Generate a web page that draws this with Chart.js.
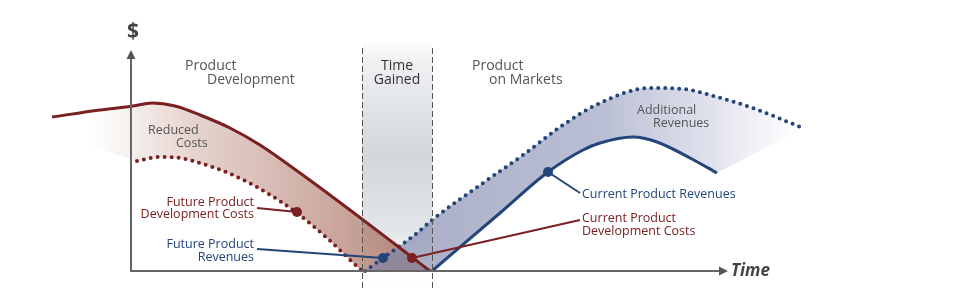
<!DOCTYPE html>
<html>
<head>
<meta charset="utf-8">
<script src="https://cdn.jsdelivr.net/npm/chart.js@4"></script>
<style>
  body { margin: 0; background: #fff; }
  canvas { display: block; }
</style>
</head>
<body>
<canvas id="myChart" width="979" height="304"></canvas>
<script>
// time units on x, money units on y (axis origin = 0,0)
const currentCostX = [-7.9, -3.1, 0.2, 2.1, 4.4, 6.9, 9.9, 12.9, 16.9, 21.9, 26.9, 29.9];
const currentCostY = [15.4, 16.1, 16.5, 16.8, 16.5, 15.6, 14.3, 12.6, 9.8, 6.1, 2.3, 0];

const futureCostX = [0.6, 2.9, 4.9, 6.9, 10.2, 13.6, 16.6, 19.6, 21.6, 23.1];
const futureCostY = [11.0, 11.4, 11.3, 10.8, 9.6, 7.8, 5.8, 3.3, 1.4, 0];

const futureRevX = [23.4, 25.2, 28.6, 30.1, 35.2, 39.2, 43.2, 46.9, 51.9, 55.2, 58.6, 61.9, 67.2];
const futureRevY = [0, 1.3, 3.8, 5.1, 8.8, 11.6, 14.6, 16.8, 18.3, 18.2, 17.4, 16.4, 14.3];

const currentRevX = [30.1, 36.9, 41.7, 45.2, 46.9, 50.2, 52.6, 55.9, 58.6];
const currentRevY = [0, 5.8, 9.9, 12.1, 12.8, 13.4, 12.9, 11.3, 9.8];

// time gained window
const gainedStart = 23.1;
const gainedEnd = 30.1;

// callout markers on the curves
const markFutureCost = { x: 16.6, y: 5.9 };
const markFutureRev = { x: 25.2, y: 1.3 };
const markCurrentCost = { x: 28.1, y: 1.3 };
const markCurrentRev = { x: 41.7, y: 9.9 };

const RED = '#7a2020';
const NAVY = '#22457a';

const pts = (xs, ys) => xs.map((v, i) => ({ x: v, y: ys[i] }));

const labels = [
  { t: 'Product', x: 5.4, y: 20.5, a: 'left', f: '14px "Open Sans"', c: '#555' },
  { t: 'Development', x: 7.6, y: 19.1, a: 'left', f: '14px "Open Sans"', c: '#555' },
  { t: 'Time', x: 26.6, y: 20.5, a: 'center', f: '14px "Open Sans"', c: '#333' },
  { t: 'Gained', x: 26.6, y: 19.1, a: 'center', f: '14px "Open Sans"', c: '#333' },
  { t: 'Product', x: 34.1, y: 20.5, a: 'left', f: '14px "Open Sans"', c: '#555' },
  { t: 'on Markets', x: 35.8, y: 19.1, a: 'left', f: '14px "Open Sans"', c: '#555' },
  { t: 'Reduced', x: 1.7, y: 14.1, a: 'left', f: '12.5px "Open Sans"', c: '#555' },
  { t: 'Costs', x: 4.5, y: 12.8, a: 'left', f: '12.5px "Open Sans"', c: '#555' },
  { t: 'Additional', x: 50.6, y: 16.1, a: 'left', f: '12.5px "Open Sans"', c: '#555' },
  { t: 'Revenues', x: 52.2, y: 14.8, a: 'left', f: '12.5px "Open Sans"', c: '#555' },
  { t: 'Future Product', x: 12.3, y: 6.9, a: 'right', f: '500 12.5px "Open Sans"', c: RED },
  { t: 'Development Costs', x: 12.3, y: 5.7, a: 'right', f: '500 12.5px "Open Sans"', c: RED },
  { t: 'Future Product', x: 12.3, y: 2.7, a: 'right', f: '500 12.5px "Open Sans"', c: NAVY },
  { t: 'Revenues', x: 12.3, y: 1.4, a: 'right', f: '500 12.5px "Open Sans"', c: NAVY },
  { t: 'Current Product Revenues', x: 45.1, y: 7.7, a: 'left', f: '500 12.5px "Open Sans"', c: NAVY },
  { t: 'Current Product', x: 45.1, y: 5.3, a: 'left', f: '500 12.5px "Open Sans"', c: RED },
  { t: 'Development Costs', x: 45.1, y: 4.0, a: 'left', f: '500 12.5px "Open Sans"', c: RED },
  { t: 'Time', x: 60.0, y: 0, a: 'left', f: 'italic bold 17px "Open Sans"', c: '#444' },
  { t: '$', x: 0.2, y: 23.9, a: 'center', f: 'bold 21px "Open Sans"', c: '#444' }
];

function trace(ctx, points, reverse, move) {
  const p = reverse ? points.slice().reverse() : points;
  if (move) ctx.moveTo(p[0].x, p[0].y); else ctx.lineTo(p[0].x, p[0].y);
  for (let i = 1; i < p.length; i++) {
    const a = p[i - 1], b = p[i];
    if (!reverse) ctx.bezierCurveTo(a.cp2x, a.cp2y, b.cp1x, b.cp1y, b.x, b.y);
    else ctx.bezierCurveTo(a.cp1x, a.cp1y, b.cp2x, b.cp2y, b.x, b.y);
  }
}

function curvePoints(chart, idx) {
  const meta = chart.getDatasetMeta(idx);
  meta.dataset.updateControlPoints(chart.chartArea, 'x');
  return meta.data;
}

const sketch = {
  id: 'sketch',
  beforeDatasetsDraw(chart) {
    const { ctx } = chart;
    const sx = chart.scales.x, sy = chart.scales.y;
    const X = v => sx.getPixelForValue(v), Y = v => sy.getPixelForValue(v);

    // time gained band
    const top = Y(22.8), bot = Y(-2.2);
    let g = ctx.createLinearGradient(0, top, 0, bot);
    g.addColorStop(0, 'rgba(236,238,241,0.2)');
    g.addColorStop(0.08, '#eef0f2');
    g.addColorStop(0.45, '#d3d6db');
    g.addColorStop(0.75, '#e2e5e9');
    g.addColorStop(1, 'rgba(255,255,255,0)');
    ctx.save();
    ctx.fillStyle = g;
    ctx.fillRect(X(gainedStart), top, X(gainedEnd) - X(gainedStart), bot - top);

    // reduced costs area
    const cc = curvePoints(chart, 4), fc = curvePoints(chart, 5);
    g = ctx.createLinearGradient(X(-4), 0, X(30), 0);
    g.addColorStop(0, 'rgba(185,135,120,0)');
    g.addColorStop(0.3, 'rgba(182,130,115,0.35)');
    g.addColorStop(1, 'rgba(160,100,85,0.8)');
    ctx.beginPath();
    trace(ctx, cc, false, true);
    trace(ctx, fc, true, false);
    ctx.lineTo(X(-4), Y(12.5));
    ctx.closePath();
    ctx.fillStyle = g;
    ctx.fill();

    // additional revenues area
    const fr = curvePoints(chart, 6), cr = curvePoints(chart, 7);
    g = ctx.createLinearGradient(X(23), 0, X(67), 0);
    g.addColorStop(0, 'rgba(120,128,165,0.65)');
    g.addColorStop(0.55, 'rgba(140,148,185,0.6)');
    g.addColorStop(0.8, 'rgba(155,160,195,0.3)');
    g.addColorStop(1, 'rgba(175,180,210,0)');
    ctx.beginPath();
    trace(ctx, fr, false, true);
    trace(ctx, cr, true, false);
    ctx.closePath();
    ctx.fillStyle = g;
    ctx.fill();
    ctx.restore();
  },
  afterDatasetsDraw(chart) {
    const { ctx } = chart;
    const sx = chart.scales.x, sy = chart.scales.y;
    const X = v => sx.getPixelForValue(v), Y = v => sy.getPixelForValue(v);
    ctx.save();
    // dashed window edges
    ctx.strokeStyle = '#555';
    ctx.lineWidth = 1;
    ctx.setLineDash([6, 3]);
    [gainedStart, gainedEnd].forEach(v => {
      ctx.beginPath();
      ctx.moveTo(Math.round(X(v)) + 0.5, Y(22.3));
      ctx.lineTo(Math.round(X(v)) + 0.5, Y(-1.9));
      ctx.stroke();
    });
    ctx.setLineDash([]);

    // axes with arrows
    ctx.strokeStyle = '#666';
    ctx.fillStyle = '#555';
    ctx.lineWidth = 2;
    const ox = X(0), oy = Y(0);
    ctx.beginPath();
    ctx.moveTo(ox, oy);
    ctx.lineTo(ox, Y(21.4));
    ctx.moveTo(ox - 1, oy);
    ctx.lineTo(X(58.9), oy);
    ctx.stroke();
    ctx.beginPath();
    ctx.moveTo(ox, Y(22.1));
    ctx.lineTo(ox - 4.5, Y(21.2));
    ctx.lineTo(ox + 4.5, Y(21.2));
    ctx.closePath();
    ctx.fill();
    ctx.beginPath();
    ctx.moveTo(X(59.7), oy);
    ctx.lineTo(X(58.8), oy - 4.5);
    ctx.lineTo(X(58.8), oy + 4.5);
    ctx.closePath();
    ctx.fill();

    // text
    ctx.textBaseline = 'middle';
    labels.forEach(l => {
      ctx.font = l.f;
      ctx.fillStyle = l.c;
      ctx.textAlign = l.a;
      ctx.fillText(l.t, X(l.x), Y(l.y));
    });
    ctx.restore();
  }
};

const leader = (from, to, color) => ({
  type: 'line',
  data: [from, to],
  borderColor: color,
  backgroundColor: color,
  borderWidth: 2,
  pointRadius: [0, 5],
  pointBorderWidth: 0,
  fill: false
});

const curve = (data, color, dotted) => ({
  type: 'line',
  data: data,
  borderColor: color,
  borderWidth: dotted ? 4 : 3,
  borderDash: dotted ? [0, 7] : [],
  borderCapStyle: dotted ? 'round' : 'butt',
  cubicInterpolationMode: 'monotone',
  pointRadius: 0,
  fill: false
});

new Chart(document.getElementById('myChart'), {
  type: 'line',
  data: {
    datasets: [
      leader({ x: 12.6, y: 6.3 }, markFutureCost, RED),
      leader({ x: 12.6, y: 2.2 }, markFutureRev, NAVY),
      leader({ x: 44.9, y: 5.1 }, markCurrentCost, RED),
      leader({ x: 44.9, y: 7.8 }, markCurrentRev, NAVY),
      curve(pts(currentCostX, currentCostY), RED, false),
      curve(pts(futureCostX, futureCostY), RED, true),
      curve(pts(futureRevX, futureRevY), NAVY, true),
      curve(pts(currentRevX, currentRevY), NAVY, false)
    ]
  },
  options: {
    responsive: false,
    animation: false,
    layout: { padding: 0, autoPadding: false },
    plugins: { legend: { display: false }, tooltip: { enabled: false } },
    scales: {
      x: { type: 'linear', min: -13.1, max: 84.8, display: false },
      y: { type: 'linear', min: -3.3, max: 27.1, display: false }
    }
  },
  plugins: [sketch]
});
</script>
</body>
</html>
